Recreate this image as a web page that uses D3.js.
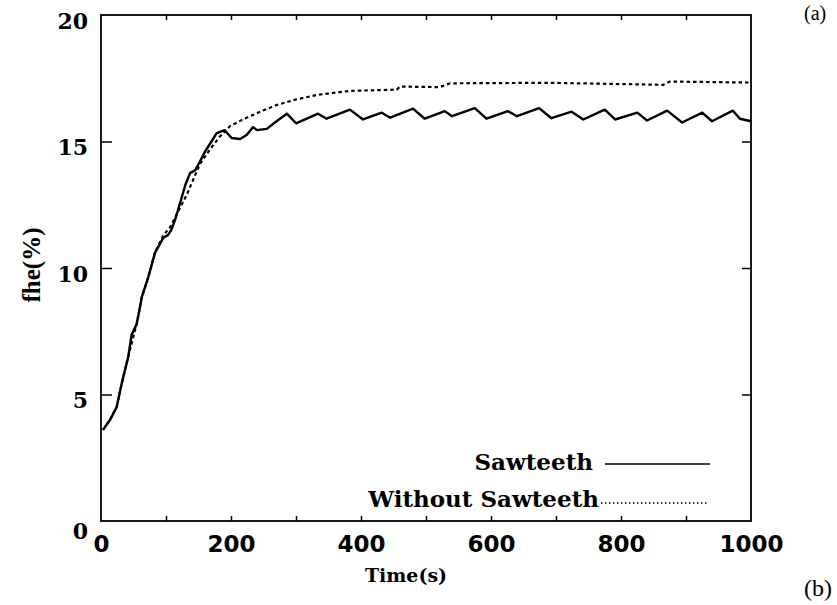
<!DOCTYPE html>
<html>
<head>
<meta charset="utf-8">
<script src="https://cdn.jsdelivr.net/npm/d3@7"></script>
<style>
  html, body { margin: 0; padding: 0; background: #fff; }
  svg { display: block; }
</style>
</head>
<body>
<svg id="chart" width="837" height="605"></svg>
<script>
// Time (s) and fraction of helium (%) for the run with sawteeth
const sawTime = [3, 14, 24, 32, 42, 47, 55, 63, 73, 83, 96, 103, 108, 114, 122, 130, 137, 145, 152, 160, 170, 178, 190, 201, 214, 224, 234, 240, 255, 270, 286, 300, 334, 347, 383, 403, 432, 445, 480, 498, 529, 540, 575, 593, 626, 640, 674, 693, 724, 742, 775, 791, 825, 840, 871, 894, 925, 940, 972, 983, 1000];
const sawValue = [3.6, 4.0, 4.5, 5.45, 6.5, 7.35, 7.8, 8.87, 9.66, 10.6, 11.2, 11.3, 11.5, 11.9, 12.6, 13.3, 13.75, 13.87, 14.2, 14.6, 15.0, 15.33, 15.45, 15.14, 15.1, 15.26, 15.57, 15.45, 15.5, 15.8, 16.1, 15.72, 16.1, 15.9, 16.26, 15.87, 16.14, 15.94, 16.3, 15.9, 16.2, 16.0, 16.32, 15.9, 16.2, 16.0, 16.32, 15.92, 16.18, 15.87, 16.26, 15.87, 16.14, 15.83, 16.22, 15.75, 16.14, 15.8, 16.22, 15.9, 15.8];

// Same quantity for the run without sawteeth
const noSawTime = [3, 14, 24, 32, 42, 55, 63, 73, 83, 96, 106, 120, 132, 142, 152, 168, 183, 198, 219, 245, 270, 301, 332, 383, 455, 460, 521, 537, 691, 865, 875, 1000];
const noSawValue = [3.6, 4.0, 4.5, 5.45, 6.5, 7.8, 8.87, 9.66, 10.6, 11.3, 11.6, 12.3, 12.9, 13.5, 14.1, 14.7, 15.2, 15.6, 15.88, 16.18, 16.44, 16.67, 16.84, 17.0, 17.05, 17.17, 17.15, 17.3, 17.32, 17.24, 17.37, 17.33];

const xTickLabels = [0, 200, 400, 600, 800, 1000];
const xMinorTicks = [100, 200, 300, 400, 500, 600, 700, 800, 900];
const yTickLabels = [0, 5, 10, 15, 20];
const yMajorTicks = [5, 10, 15];

const seriesNames = ["Sawteeth", "Without Sawteeth"];

const svg = d3.select("#chart");
const plotLeft = 101, plotRight = 751, plotTop = 15, plotBottom = 521;

const x = d3.scaleLinear().domain([0, 1000]).range([plotLeft, plotRight]);
const y = d3.scaleLinear().domain([0, 20]).range([plotBottom, plotTop]);

// frame
svg.append("rect")
  .attr("x", plotLeft).attr("y", plotTop)
  .attr("width", plotRight - plotLeft).attr("height", plotBottom - plotTop)
  .attr("fill", "none").attr("stroke", "#000").attr("stroke-width", 1.8);

// inward minor ticks on bottom and top
svg.append("g").attr("transform", `translate(0,${plotBottom})`)
  .call(d3.axisBottom(x).tickValues(xMinorTicks).tickSize(-5).tickFormat(""))
  .call(g => g.select(".domain").remove())
  .call(g => g.selectAll("line").attr("stroke-width", 1.5));
svg.append("g").attr("transform", `translate(0,${plotTop})`)
  .call(d3.axisTop(x).tickValues(xMinorTicks).tickSize(-5).tickFormat(""))
  .call(g => g.select(".domain").remove())
  .call(g => g.selectAll("line").attr("stroke-width", 1.5));

// inward major ticks on left and right
svg.append("g").attr("transform", `translate(${plotLeft},0)`)
  .call(d3.axisLeft(y).tickValues(yMajorTicks).tickSize(-11).tickFormat(""))
  .call(g => g.select(".domain").remove())
  .call(g => g.selectAll("line").attr("stroke-width", 1.5));
svg.append("g").attr("transform", `translate(${plotRight},0)`)
  .call(d3.axisRight(y).tickValues(yMajorTicks).tickSize(-9).tickFormat(""))
  .call(g => g.select(".domain").remove())
  .call(g => g.selectAll("line").attr("stroke-width", 1.5));

// x tick labels
svg.append("g").attr("transform", `translate(0,${plotBottom})`)
  .call(d3.axisBottom(x).tickValues(xTickLabels).tickSize(0).tickPadding(15).tickFormat(d3.format("d")))
  .call(g => g.select(".domain").remove())
  .call(g => g.selectAll("text")
    .attr("fill", "#000")
    .attr("font-family", "'DejaVu Sans', sans-serif")
    .attr("font-weight", "bold")
    .attr("font-size", 23)
    .attr("dy", "0.71em"));

// y tick labels
svg.append("g").attr("transform", `translate(${plotLeft},0)`)
  .call(d3.axisLeft(y).tickValues(yTickLabels).tickSize(0).tickPadding(13).tickFormat(d3.format("d")))
  .call(g => g.select(".domain").remove())
  .call(g => g.selectAll("text")
    .attr("fill", "#000")
    .attr("font-family", "'DejaVu Serif', serif")
    .attr("font-weight", "bold")
    .attr("font-size", 22)
    .attr("dy", d => d === 0 ? "0.78em" : "0.6em"));

// axis titles
svg.append("text")
  .attr("x", 406).attr("y", 582)
  .attr("text-anchor", "middle")
  .attr("font-family", "'DejaVu Serif', serif")
  .attr("font-weight", "bold")
  .attr("font-size", 19)
  .text("Time(s)");

svg.append("text")
  .attr("transform", "translate(40,265) rotate(-90)")
  .attr("text-anchor", "middle")
  .attr("font-family", "'Liberation Serif', serif")
  .attr("font-weight", "bold")
  .attr("font-size", 25)
  .text("fhe(%)");

// panel letters
svg.append("text")
  .attr("x", 804).attr("y", 596)
  .attr("font-family", "'Liberation Serif', serif")
  .attr("font-size", 24)
  .text("(b)");
svg.append("text")
  .attr("x", 804).attr("y", 20)
  .attr("font-family", "'Liberation Serif', serif")
  .attr("font-size", 20)
  .text("(a)");

// curves
const sawData = sawTime.map((t, i) => [t, sawValue[i]]);
const noSawData = noSawTime.map((t, i) => [t, noSawValue[i]]);
const line = d3.line().x(d => x(d[0])).y(d => y(d[1]));

svg.append("path")
  .datum(noSawData)
  .attr("d", line)
  .attr("fill", "none")
  .attr("stroke", "#000")
  .attr("stroke-width", 2.2)
  .attr("stroke-dasharray", "3.5,3");

svg.append("path")
  .datum(sawData)
  .attr("d", line)
  .attr("fill", "none")
  .attr("stroke", "#000")
  .attr("stroke-width", 2.4)
  .attr("stroke-linejoin", "round");

// legend
const legend = svg.append("g");
const legendRows = [
  { name: seriesNames[0], textX: 593, textY: 470, lineY: 464, x1: 605, x2: 710, dash: null, w: 1.6 },
  { name: seriesNames[1], textX: 599, textY: 507, lineY: 503, x1: 601, x2: 708, dash: "1.5,2.5", w: 1.4 }
];
legendRows.forEach(r => {
  legend.append("text")
    .attr("x", r.textX).attr("y", r.textY)
    .attr("text-anchor", "end")
    .attr("font-family", "'DejaVu Serif', serif")
    .attr("font-weight", "bold")
    .attr("font-size", 23)
    .text(r.name);
  legend.append("line")
    .attr("x1", r.x1).attr("x2", r.x2)
    .attr("y1", r.lineY).attr("y2", r.lineY)
    .attr("stroke", "#000")
    .attr("stroke-width", r.w)
    .attr("stroke-dasharray", r.dash);
});
</script>
</body>
</html>
